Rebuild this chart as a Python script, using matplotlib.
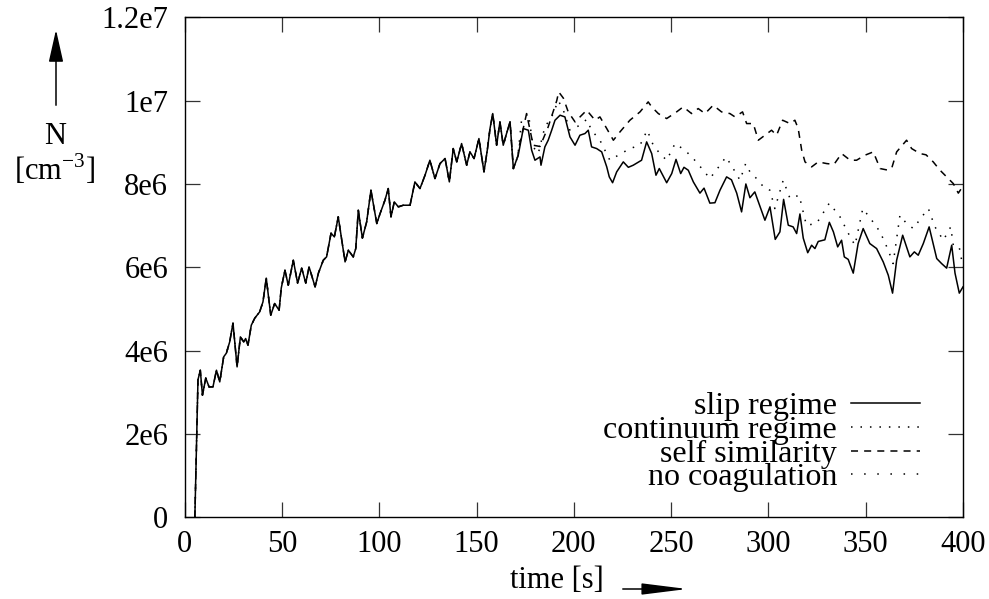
import matplotlib.pyplot as plt
from matplotlib.patches import FancyArrowPatch

plt.rcParams['font.family'] = ['Liberation Serif', 'DejaVu Serif']
plt.rcParams['mathtext.fontset'] = 'custom'
plt.rcParams['mathtext.rm'] = 'Liberation Serif'

# slip regime (values in 1e6 cm^-3); the other runs coincide with it up to ~170 s
t_slip = [5.2, 6.8, 8.0, 9.1, 10.8, 12.5, 14.5, 16.3, 18.0, 20.0, 21.4, 23.1, 24.8, 26.9, 28.6,
          30.3, 31.3, 32.5, 34.2, 36.0, 38.5, 40.2, 41.9, 44.2, 46.2, 48.5, 49.6, 51.5, 53.2,
          55.8, 58.0, 60.1, 62.2, 63.9, 67.0, 68.7, 71.2, 72.9, 75.2, 76.9, 78.9, 80.7, 82.4,
          84.1, 86.6, 87.9, 89.2, 91.3, 93.5, 95.7, 98.7, 100.4, 102.9, 104.6, 106.0, 107.7,
          109.8, 112.3, 115.8, 118.3, 120.9, 123.5, 126.0, 128.6, 131.2, 133.8, 136.0, 138.0,
          139.8, 142.3, 144.9, 146.6, 148.7, 151.2, 153.8, 155.5, 156.9, 158.3, 160.3, 162.0,
          163.7, 165.4, 167.2, 168.9, 171.4]
n_slip = [0.0, 3.30, 3.53, 2.93, 3.34, 3.13, 3.13, 3.53, 3.25, 3.85, 3.94, 4.21, 4.66, 3.61, 4.33,
          4.21, 4.29, 4.13, 4.61, 4.78, 4.93, 5.17, 5.74, 4.85, 5.13, 4.97, 5.50, 5.93, 5.57,
          6.17, 5.62, 5.98, 5.62, 6.01, 5.53, 5.86, 6.17, 6.25, 6.82, 6.73, 7.21, 6.65, 6.13,
          6.41, 6.25, 6.45, 7.37, 6.70, 7.09, 7.85, 7.05, 7.29, 7.61, 7.89, 7.21, 7.57,
          7.45, 7.49, 7.49, 8.05, 7.89, 8.21, 8.57, 8.13, 8.49, 8.61, 8.05, 8.85,
          8.53, 8.97, 8.45, 8.77, 8.61, 9.09, 8.29, 8.81, 9.33, 9.69, 8.93, 9.49,
          8.93, 9.21, 9.49, 8.37, 8.69]

t_slip_late = [174.0, 176.6, 178.3, 180.0, 182.6, 183.1, 185.1, 186.8, 188.6, 190.3, 192.9, 195.4,
               198.0, 200.6, 203.1, 205.7, 207.4, 209.1, 211.7, 214.3, 216.9, 218.2, 219.9, 222.0,
               225.4, 228.0, 230.5, 234.8, 237.4, 240.0, 242.2, 243.9, 247.7, 250.3, 252.5, 254.9,
               256.6, 258.8, 261.4, 264.8, 266.9, 269.9, 272.5, 275.1, 278.5, 281.0, 283.7, 286.2,
               288.4, 290.5, 293.0, 295.6, 298.2, 300.8, 303.5, 305.9, 307.8, 310.2, 312.7, 314.5,
               316.2, 317.9, 320.2, 322.2, 323.9, 325.6, 329.0, 331.3, 333.4, 335.6, 337.6, 339.0,
               341.0, 343.6, 346.1, 348.7, 352.1, 355.6, 359.0, 361.6, 363.8, 365.9, 369.0, 372.7,
               375.0, 377.0, 379.6, 382.6, 386.5, 389.0, 391.6, 394.2, 395.9, 398.1, 400.0]
n_slip_late = [9.33, 9.29, 8.81, 8.57, 8.65, 8.45, 8.89, 9.05, 9.29, 9.53, 9.65, 9.61,
               9.13, 8.93, 9.17, 9.21, 9.29, 8.89, 8.85, 8.77, 8.41, 8.17, 8.03, 8.29,
               8.53, 8.40, 8.45, 8.57, 9.01, 8.73, 8.21, 8.37, 8.03, 8.25, 8.59, 8.25,
               8.40, 8.33, 8.05, 7.78, 7.90, 7.54, 7.55, 7.85, 8.17, 8.10, 7.78, 7.33,
               8.00, 7.67, 7.81, 7.47, 7.13, 7.45, 6.67, 6.85, 7.63, 7.01, 6.97, 6.81,
               7.28, 6.70, 6.35, 6.53, 6.45, 6.62, 6.66, 7.08, 6.85, 6.49, 6.65, 6.25,
               6.19, 5.86, 6.57, 6.93, 6.57, 6.45, 6.13, 5.81, 5.38, 6.17, 6.77, 6.25,
               6.37, 6.29, 6.57, 6.97, 6.21, 6.09, 5.98, 6.53, 5.86, 5.38, 5.53]

# continuum regime after it separates from the slip curve
t_cont = [171.4, 173.1, 176.6, 179.1, 181.7, 185.1, 188.6, 192.0, 194.6, 198.0, 203.1, 206.6,
          209.1, 213.4, 218.5, 222.8, 228.8, 234.0, 237.7, 240.8, 244.2, 247.7, 252.0, 257.1,
          261.4, 266.5, 269.9, 275.1, 278.2, 281.9, 285.4, 288.3, 290.5, 293.9, 298.2, 300.8,
          303.3, 307.6, 311.1, 315.8, 319.5, 324.7, 331.3, 336.8, 342.0, 344.5, 348.5, 353.1,
          357.4, 361.6, 364.1, 367.6, 371.0, 374.5, 378.8, 382.2, 385.6, 389.9, 393.7, 395.0,
          398.0, 400.0]
n_cont = [8.75, 9.53, 9.69, 8.89, 8.73, 9.37, 9.61, 10.0, 9.77, 9.29, 9.41, 9.55,
          9.29, 9.05, 8.57, 8.69, 8.85, 8.93, 9.29, 8.93, 8.73, 8.57, 8.97, 8.81,
          8.61, 8.33, 8.13, 8.45, 8.65, 8.37, 8.09, 8.49, 8.29, 8.13, 7.89, 7.85,
          7.41, 8.09, 7.65, 7.73, 7.01, 7.05, 7.54, 7.21, 6.73, 6.53, 7.41, 7.13,
          6.85, 6.41, 6.09, 7.25, 7.05, 6.93, 7.21, 7.41, 6.97, 6.65, 6.97, 6.53,
          6.50, 6.00]

# self similarity after it separates
t_self = [171.4, 175.7, 179.1, 182.6, 186.8, 191.2, 192.2, 194.6, 197.1, 200.6, 206.6, 210.9,
          213.4, 216.9, 220.3, 223.7, 228.8, 234.0, 238.2, 240.0, 243.4, 247.7, 252.8, 256.2,
          260.5, 263.9, 267.4, 271.6, 275.9, 280.2, 282.8, 286.7, 288.8, 292.2, 294.8, 298.2,
          301.6, 304.2, 307.3, 311.1, 313.6, 315.3, 317.1, 318.8, 322.2, 325.6, 329.9, 333.7,
          337.6, 342.0, 345.3, 349.6, 353.9, 357.4, 361.6, 363.5, 365.9, 371.0, 373.6, 377.9,
          381.0, 384.7, 388.2, 391.6, 395.0, 397.6, 400.0]
n_self = [8.80, 9.69, 8.93, 8.90, 9.37, 10.0, 10.21, 10.06, 9.73, 9.49, 9.77, 9.53,
          9.61, 9.33, 9.05, 9.25, 9.53, 9.73, 9.97, 9.85, 9.69, 9.57, 9.73, 9.85,
          9.69, 9.81, 9.69, 9.89, 9.73, 9.69, 9.61, 9.73, 9.45, 9.45, 9.05, 9.17,
          9.29, 9.17, 9.53, 9.45, 9.53, 9.33, 8.81, 8.53, 8.41, 8.53, 8.49, 8.47,
          8.73, 8.57, 8.57, 8.69, 8.77, 8.37, 8.33, 8.40, 8.77, 9.05, 8.85, 8.73,
          8.70, 8.53, 8.33, 8.17, 8.01, 7.78, 7.95]

# no coagulation: not visible inside the plotted range
t_nocoag = []
n_nocoag = []

labels = ['slip regime', 'continuum regime', 'self similarity', 'no coagulation']
yticks = [0, 2e6, 4e6, 6e6, 8e6, 1e7, 1.2e7]
ytick_labels = ['0', '2e6', '4e6', '6e6', '8e6', '1e7', '1.2e7']
xticks = [0, 50, 100, 150, 200, 250, 300, 350, 400]

scale = 1e6
slip_t = t_slip + t_slip_late
slip_n = [v * scale for v in n_slip + n_slip_late]
cont_t = t_slip + t_cont
cont_n = [v * scale for v in n_slip + n_cont]
self_t = t_slip + t_self
self_n = [v * scale for v in n_slip + n_self]

FS = 22
W, H = 989, 599

fig = plt.figure(figsize=(9.89, 5.99), dpi=100)
ax = fig.add_axes([0.1868, 0.1364, 0.7869, 0.8347])

ax.plot(slip_t, slip_n, color='black', lw=1.1, linestyle='-', label=labels[0])
ax.plot(cont_t, cont_n, color='black', lw=1.1, linestyle=(0, (1, 5.2)), label=labels[1])
ax.plot(self_t, self_n, color='black', lw=1.1, linestyle=(0, (4.6, 4)), label=labels[2])
ax.plot(t_nocoag, n_nocoag, color='black', lw=1.1, linestyle=(0, (1, 7.6)), label=labels[3])

ax.set_xlim(0, 400)
ax.set_ylim(0, 1.2e7)
ax.set_xticks(xticks)
ax.set_yticks(yticks)
ax.set_yticklabels(ytick_labels)
ax.tick_params(direction='in', length=11, width=0.9, labelsize=FS,
               top=True, right=True, color='#333333')
ax.tick_params(axis='y', pad=12)
ax.tick_params(axis='x', pad=9)
for s in ax.spines.values():
    s.set_linewidth(1.0)

leg = ax.legend(loc='lower right', bbox_to_anchor=(0.945, 0.05), frameon=False,
                markerfirst=False, fontsize=23, handlelength=2.16, labelspacing=-0.18,
                handletextpad=0.44, borderaxespad=0, borderpad=0)
leg._legend_box.align = 'right'
for txt in leg.get_texts():
    txt.set_ha('right')

# axis labels with arrows, gnuplot style
fig.text(55 / W, 1 - 137 / H, 'N', ha='center', va='center', fontsize=FS)
fig.text(55 / W, 1 - 170 / H, r'[cm$^{-3}$]', ha='center', va='center', fontsize=FS)
fig.add_artist(FancyArrowPatch(
    (56 / W, 1 - 108 / H), (56 / W, 1 - 27 / H), transform=fig.transFigure,
    arrowstyle='-|>,head_length=20,head_width=4.5', color='black', lw=1.1, mutation_scale=1))
fig.text(557 / W, 1 - 580 / H, 'time [s]', ha='center', va='center', fontsize=FS)
fig.add_artist(FancyArrowPatch(
    (620 / W, 1 - 589 / H), (690 / W, 1 - 589 / H), transform=fig.transFigure,
    arrowstyle='-|>,head_length=28,head_width=3.5', color='black', lw=1.1, mutation_scale=1))

fig.savefig('out.png', dpi=100)
